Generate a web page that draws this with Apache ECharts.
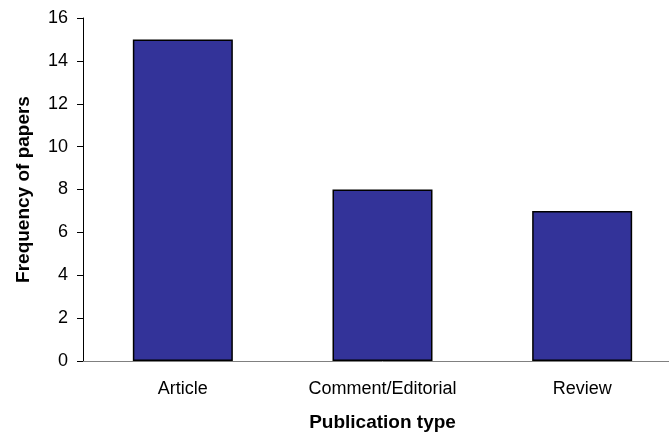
<!DOCTYPE html>
<html>
<head>
<meta charset="utf-8">
<script src="https://cdn.jsdelivr.net/npm/echarts@6/dist/echarts.min.js"></script>
<style>
  html, body { margin: 0; padding: 0; background: #ffffff; overflow: hidden; width: 669px; height: 439px; }
  /* the plot area runs slightly past the right edge of the window */
  #chart { width: 682px; height: 439px; }
</style>
</head>
<body>
<div id="chart"></div>
<script>
// Publication types and how many papers fall in each
const categories = ['Article', 'Comment/Editorial', 'Review'];
const frequencies = [15, 8, 7];
const yMin = 0;
const yMax = 16;
const yStep = 2;

const chart = echarts.init(document.getElementById('chart'), null, { renderer: 'canvas' });

const font = '"Liberation Sans", Arial, sans-serif';

chart.setOption({
  backgroundColor: '#ffffff',
  animation: false,
  grid: { left: 83, top: 18, right: 0, bottom: 78, containLabel: false },
  xAxis: {
    type: 'category',
    data: categories,
    name: 'Publication type',
    nameLocation: 'middle',
    nameGap: 52,
    nameTextStyle: { fontFamily: font, fontSize: 19, fontWeight: 'bold', color: '#000' },
    axisLine: { lineStyle: { color: '#808080', width: 1 } },
    axisTick: { show: false },
    axisLabel: { fontFamily: font, fontSize: 18, color: '#000', margin: 19, interval: 0 },
    splitLine: { show: false }
  },
  yAxis: {
    type: 'value',
    min: yMin,
    max: yMax,
    interval: yStep,
    name: 'Frequency of papers',
    nameLocation: 'middle',
    nameGap: 50,
    nameTextStyle: { fontFamily: font, fontSize: 19, fontWeight: 'bold', color: '#000' },
    axisLine: { show: true, lineStyle: { color: '#000', width: 1 } },
    axisTick: { show: true, length: 6, lineStyle: { color: '#000' } },
    axisLabel: { fontFamily: font, fontSize: 18, color: '#000', margin: 15 },
    splitLine: { show: false }
  },
  series: [{
    type: 'bar',
    data: frequencies,
    barWidth: 100,
    itemStyle: { color: '#333399', borderColor: '#000', borderWidth: 1.5 }
  }]
});
</script>
</body>
</html>
